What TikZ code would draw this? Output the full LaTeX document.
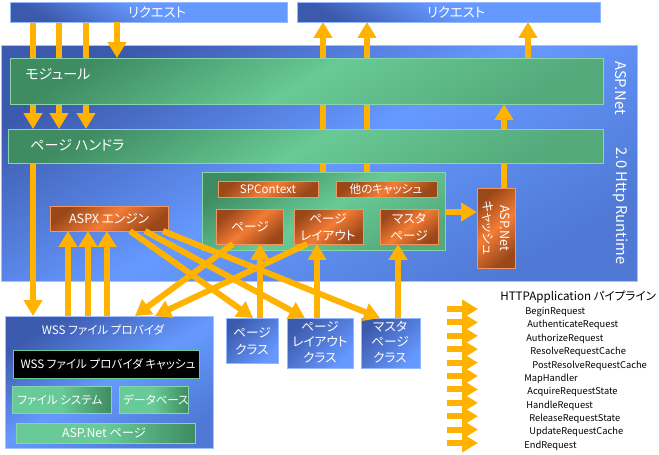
\documentclass[tikz,border=0pt]{standalone}
\usepackage{fontspec}
\setmainfont{Noto Sans CJK JP}[RawFeature=+palt]
\usetikzlibrary{arrows.meta,positioning,fit}

\pgfdeclarelayer{back}
\pgfdeclarelayer{mid}
\pgfsetlayers{back,mid,main}

\definecolor{flowor}{HTML}{FFB300}
\definecolor{bluelt}{HTML}{6699FF}
\definecolor{bluemd}{HTML}{4F79D4}
\definecolor{bluedk}{HTML}{3C5AAD}
\definecolor{greenlt}{HTML}{68CA96}
\definecolor{greenmd}{HTML}{55AA7C}
\definecolor{greendk}{HTML}{3F8C62}
\definecolor{orlt}{HTML}{F47C35}
\definecolor{ordk}{HTML}{9A471A}

\tikzset{
  area/.style={inner sep=0pt, outer sep=0pt, line width=0.5pt},
  runbox/.style={area, draw=bluelt!60!white, top color=bluedk, bottom color=bluemd, middle color=bluelt, shading angle=30},
  reqbar/.style={area, draw=bluelt!70!white, top color=bluelt, bottom color=bluedk, middle color=bluelt, shading angle=-30},
  greenbar/.style={area, draw=greenlt!80!white, top color=greendk, bottom color=greenmd, middle color=greenlt, shading angle=30},
  orbox/.style={area, draw=orlt!80!white, top color=ordk, bottom color=ordk, middle color=orlt, shading angle=40},
  clsbox/.style={area, draw=bluelt!70!white, top color=bluedk, bottom color=bluelt, shading angle=45},
  store/.style={area, draw=greenlt!80!white, left color=greenlt, right color=greendk, middle color=greenlt},
  txt/.style={text=white, align=center, inner sep=0pt, font=\fontsize{7.2}{9.5}\selectfont},
  smalltxt/.style={txt, font=\fontsize{6.6}{8}\selectfont},
  bigtxt/.style={txt, font=\fontsize{8}{10}\selectfont},
  flow/.style={draw=flowor, line width=3.4pt, -{Triangle[width=10.2pt,length=9pt]}},
  evt/.style={anchor=west, inner sep=0pt, font=\fontsize{5.3}{6.5}\selectfont},
}

\begin{document}
\begin{tikzpicture}[x=0.02cm, y=-0.02cm]
  \useasboundingbox (0,0) rectangle (659,454);

  % runtime area
  \begin{pgfonlayer}{back}
    \node[runbox, fit={(1,45) (637,281)}] (runtime) {};
  \end{pgfonlayer}
  \node[bigtxt, rotate=-90, font=\fontsize{8.4}{10}\selectfont] (rtname) at (621,88) {ASP.Net};
  \node[bigtxt, rotate=-90, font=\fontsize{8.4}{10}\selectfont] (rtver) at (621,206) {2.0 Http Runtime};

  % requests
  \node[reqbar, fit={(10,2) (287,22)}] (reqin) {};
  \node[bigtxt, font=\fontsize{7.6}{9}\selectfont] (reqint) at (157,12) {リクエスト};
  \node[reqbar, fit={(297,2) (600,22)}] (reqout) {};
  \node[bigtxt, font=\fontsize{7.6}{9}\selectfont] (reqoutt) at (456,12) {リクエスト};

  % pipeline bars
  \node[greenbar, fit={(10,58) (603,104)}] (module) {};
  \node[bigtxt, anchor=west] (modulet) at (25,74) {モジュール};
  \node[greenbar, fit={(8,129) (603,163)}] (handler) {};
  \node[bigtxt, anchor=west] (handlert) at (30,145) {ページ ハンドラ};

  % caches
  \node[greenbar, fit={(202,172) (445,250)}] (cache) {};
  \node[orbox, fit={(218,181) (318,197)}] (spctx) {};
  \node[smalltxt] (spctxt) at (268,189) {SPContext};
  \node[orbox, fit={(336,181) (437,197)}] (other) {};
  \node[smalltxt] (othert) at (386,189) {他のキャッシュ};
  \node[orbox, fit={(216,209) (283,244)}] (pgbox) {};
  \node[txt] (pgboxt) at (250,227) {ページ};
  \node[orbox, fit={(294,209) (363,244)}] (lybox) {};
  \node[txt] (lyboxt) at (328,227) {ページ\\レイアウト};
  \node[orbox, fit={(380,209) (438,244)}] (msbox) {};
  \node[txt] (msboxt) at (409,227) {マスタ\\ページ};
  \node[orbox, fit={(477,188) (515,268)}] (aspcache) {};
  \node[txt, rotate=-90] (aspcachet) at (496,228) {ASP.Net\\キャッシュ};

  % engine
  \node[orbox, fit={(50,206) (168,231)}] (aspx) {};
  \node[txt] (aspxt) at (109,219) {ASPX エンジン};

  % classes
  \node[clsbox, fit={(226,318) (278,363)}] (pgcls) {};
  \node[txt] (pgclst) at (252,341) {ページ\\クラス};
  \node[clsbox, fit={(287,318) (353,368)}] (lycls) {};
  \node[txt, font=\fontsize{7.2}{8.8}\selectfont] (lyclst) at (320,342) {ページ\\レイアウト\\クラス};
  \node[clsbox, fit={(361,318) (420,368)}] (mscls) {};
  \node[txt, font=\fontsize{7.2}{8.8}\selectfont] (msclst) at (390,342) {マスタ\\ページ\\クラス};

  % file provider
  \node[runbox, fit={(5,316) (213,448)}] (wss) {};
  \node[smalltxt] (wsst) at (103,330) {WSS ファイル プロバイダ};
  \node[area, fill=black, draw=greenlt, fit={(13,350) (199,378)}] (wsscache) {};
  \node[smalltxt] (wsscachet) at (108,364) {WSS ファイル プロバイダ キャッシュ};
  \node[store, fit={(12,386) (111,413)}] (fsys) {};
  \node[smalltxt] (fsyst) at (60,400) {ファイル システム};
  \node[store, fit={(119,386) (188,413)}] (db) {};
  \node[smalltxt] (dbt) at (156,400) {データベース};
  \node[store, fit={(16,423) (195,443)}] (aspage) {};
  \node[smalltxt, font=\fontsize{7}{8}\selectfont] (aspaget) at (104,433) {ASP.Net ページ};

  % flows behind the bars
  \begin{pgfonlayer}{mid}
    \foreach \xx in {33,59,86}
      \draw[flow] (reqin.south -| \xx,0) -- (handler.north -| \xx,0);
    \foreach \xx in {323,367}
      \draw[flow] (cache.north -| \xx,0) -- (reqout.south -| \xx,0);
    \draw[flow] (aspcache.north -| 504,0) -- (module.south -| 504,0);
  \end{pgfonlayer}
  \draw[flow] (reqin.south -| 117,0) -- (module.north -| 117,0);
  \draw[flow] (module.north -| 528,0) -- (reqout.south -| 528,0);
  \draw[flow] (handler.south -| 33,0) -- (wss.north -| 33,0);
  \foreach \xx in {68,88,107}
    \draw[flow] (wss.north -| \xx,0) -- (aspx.south -| \xx,0);
  \draw[flow] (cache.east |- 0,212) -- (aspcache.west |- 0,212);

  % engine to classes
  \draw[flow] (aspx.south -| 130,0) -- (pgcls.north -| 253,0);
  \draw[flow] (aspx.south -| 145,0) -- (lycls.north -| 305,0);
  \draw[flow] (aspx.south -| 163,0) -- (mscls.north -| 380,0);
  \draw[flow] (pgbox.south -| 233,0) -- (wss.north -| 135,0);
  \draw[flow] (lybox.south -| 307,0) -- (wss.north -| 155,0);
  \draw[flow] (pgcls.north -| 260,0) -- (pgbox.south -| 260,0);
  \draw[flow] (lycls.north -| 317,0) -- (lybox.south -| 317,0);
  \draw[flow] (mscls.north -| 398,0) -- (msbox.south -| 398,0);

  % legend
  \node[anchor=west, inner sep=0pt, font=\fontsize{6.6}{8}\selectfont] (pipe) at (500,297) {HTTPApplication パイプライン};
  \foreach \ev/\xx [count=\k from 0] in {BeginRequest/525, AuthenticateRequest/527, AuthorizeRequest/526, ResolveRequestCache/530, PostResolveRequestCache/532, MapHandler/524, AcquireRequestState/527, HandleRequest/526, ReleaseRequestState/529, UpdateRequestCache/529, EndRequest/524}{
    \node[evt] (ev\k) at (\xx, 312+13.35*\k) {\ev};
    \draw[flow] (447, 309+13.4*\k) -- (478, 309+13.4*\k);
  }
\end{tikzpicture}
\end{document}
